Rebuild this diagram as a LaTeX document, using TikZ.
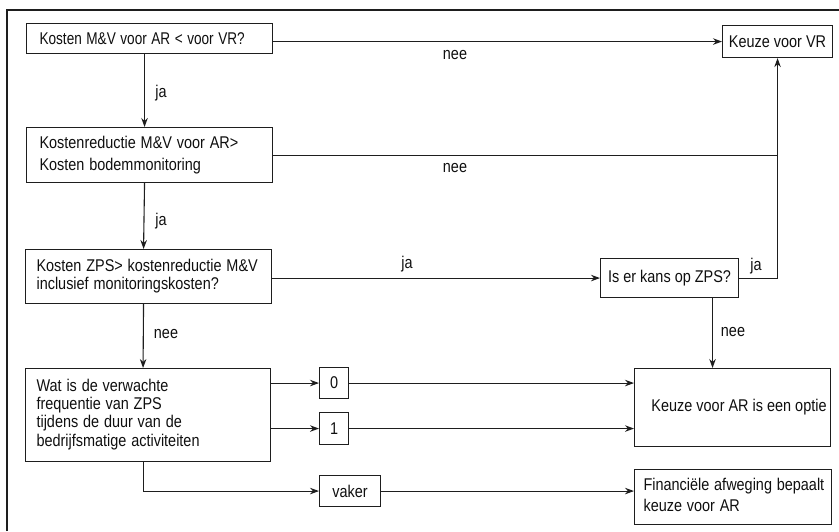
\documentclass[tikz,border=0pt]{standalone}
\usepackage{fontspec}
\usepackage{graphicx}
\setmainfont{Liberation Sans}
\usetikzlibrary{arrows.meta}
\newcommand{\narrowl}[1]{\scalebox{0.85}[1]{\begin{tabular}{@{}l@{}}#1\end{tabular}}}
\newcommand{\narrows}[1]{\scalebox{0.85}[1]{#1}}
\begin{document}
\begin{tikzpicture}[x=1pt,y=-1pt,
  line width=1.1pt, draw={rgb,255:red,30;green,30;blue,30},
  txt/.style={font=\fontsize{17}{19}\selectfont, text={rgb,255:red,15;green,15;blue,15}},
  box/.style={draw, txt, anchor=north west, inner xsep=13pt, inner ysep=0pt, align=left},
  cbox/.style={draw, txt, anchor=north west, inner sep=0pt, align=center},
  lbl/.style={txt, inner sep=0pt},
  arr/.style={-{Stealth[length=9pt,width=6.5pt]}}]
\useasboundingbox (0,0) rectangle (839,531);
% frame
\draw[line width=1.4pt] (7,531) -- (7,10) -- (839,10);
% boxes
\node[box, text width=220pt, minimum height=30pt] (b1) at (26,23) {\scalebox{0.8}[1]{Kosten M\&V voor AR < voor VR?}};
\node[box, text width=220pt, minimum height=55pt, font=\fontsize{17}{21.5}\selectfont] (b2) at (26,127) {\narrowl{Kostenreductie M\&V voor AR>\\Kosten bodemmonitoring}};
\node[box, inner xsep=11pt, text width=224pt, minimum height=54pt, font=\fontsize{17}{18}\selectfont] (b3) at (25,249) {\narrowl{Kosten ZPS> kostenreductie M\&V\\inclusief monitoringskosten?}};
\node[box, inner xsep=11pt, text width=223pt, minimum height=93pt, font=\fontsize{17}{18.3}\selectfont] (b4) at (25,368) {\narrowl{Wat is de verwachte\\frequentie van ZPS\\tijdens de duur van de\\bedrijfsmatige activiteiten}\\[5pt]};
\node[cbox, minimum width=29pt, minimum height=31pt] (z0) at (319,367) {\narrows{0}};
\node[cbox, minimum width=29pt, minimum height=32pt] (z1) at (319,412) {\narrows{1}};
\node[cbox, minimum width=61pt, minimum height=31pt] (vk) at (319,475) {\narrows{vaker}};
\node[cbox, minimum width=110pt, minimum height=32pt] (vr) at (722,25) {\narrows{Keuze voor VR}};
\node[cbox, minimum width=138pt, minimum height=39pt] (zps) at (600,258) {\narrows{Is er kans op ZPS?}};
\node[cbox, minimum width=196pt, minimum height=78pt] (ar) at (634,368) {\hspace*{13pt}\narrows{Keuze voor AR is een optie}};
\node[box, inner xsep=9pt, text width=179pt, minimum height=55pt, font=\fontsize{17}{21}\selectfont] (fin) at (634,469) {\narrowl{Financiële afweging bepaalt\\keuze voor AR}};
% connectors
\draw[arr] (b1.east |- vr.west) -- (vr.west);
\draw[arr] ([xshift=-5pt]b1.south) -- ([xshift=-5pt]b2.north);
\draw (b2.east) -- (b2.east -| vr.south);
\draw[arr] ([xshift=-5pt]b2.south) -- ([xshift=-5pt]b3.north);
\draw[arr] (b3.east |- zps.west) -- (zps.west);
\draw[arr] (zps.east) -| (vr.south);
\draw[arr] ([xshift=43pt]zps.south) -- ([xshift=43pt]zps.south |- ar.north);
\draw[arr] ([xshift=-5pt]b3.south) -- ([xshift=-5pt]b4.north);
\draw[arr] (b4.east |- z0.west) -- (z0.west);
\draw[arr] (z0.east) -- (z0.east -| ar.west);
\draw[arr] (b4.east |- z1.west) -- (z1.west);
\draw[arr] (z1.east) -- (z1.east -| ar.west);
\draw[arr] ([xshift=-5pt]b4.south) |- (vk.west);
\draw[arr] (vk.east) -- (vk.east -| fin.west);
% labels
\node[lbl] (l1) at (455,55) {\narrows{nee}};
\node[lbl] (l2) at (161,93) {\narrows{ja}};
\node[lbl] (l3) at (455,168) {\narrows{nee}};
\node[lbl] (l4) at (161,221) {\narrows{ja}};
\node[lbl] (l5) at (407,264) {\narrows{ja}};
\node[lbl] (l6) at (756,266) {\narrows{ja}};
\node[lbl] (l7) at (166,334) {\narrows{nee}};
\node[lbl] (l8) at (733,332) {\narrows{nee}};
\end{tikzpicture}
\end{document}
